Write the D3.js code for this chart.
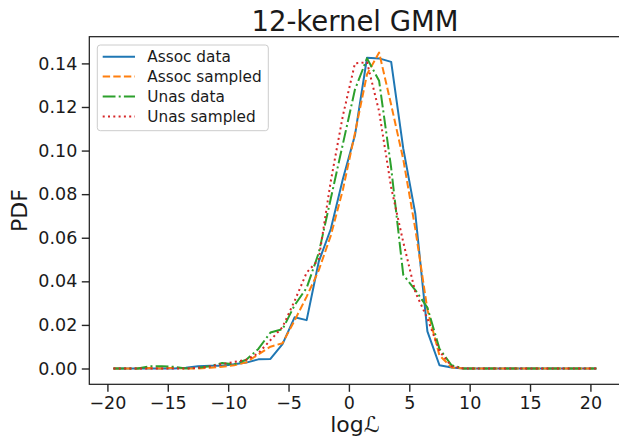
<!DOCTYPE html>
<html>
<head>
<meta charset="utf-8">
<script src="https://cdn.jsdelivr.net/npm/d3@7"></script>
<style>
  body { margin: 0; background: #fff; }
  svg { display: block; font-family: "DejaVu Sans", sans-serif; }
</style>
</head>
<body>
<div id="chart"></div>
<script>
// bin centres of log-likelihood
const logL = [-19.5, -18.5, -17.5, -16.5, -15.5, -14.5, -13.5, -12.5, -11.5, -10.5,
  -9.5, -8.5, -7.5, -6.5, -5.5, -4.5, -3.5, -2.5, -1.5, -0.5,
  0.5, 1.5, 2.5, 3.5, 4.5, 5.5, 6.5, 7.5, 8.5, 9.5,
  10.5, 11.5, 12.5, 13.5, 14.5, 15.5, 16.5, 17.5, 18.5, 19.5, 20.5];

const assocData = [0, 0, 0, 0, 0, 0, 0.0003, 0.001, 0.0013, 0.0013,
  0.002, 0.0027, 0.0042, 0.0044, 0.0112, 0.0235, 0.0222, 0.049, 0.064, 0.087,
  0.107, 0.1426, 0.1423, 0.1407, 0.101, 0.071, 0.017, 0.0015, 0.0005, 0,
  0, 0, 0, 0, 0, 0, 0, 0, 0, 0, 0];

const assocSampled = [0, 0, 0, 0.0002, 0, 0.0003, 0, 0, 0.0003, 0.0008,
  0.0015, 0.0028, 0.0065, 0.010, 0.0116, 0.022, 0.033, 0.045, 0.061, 0.082,
  0.108, 0.135, 0.145, 0.121, 0.096, 0.064, 0.027, 0.006, 0.0005, 0,
  0, 0, 0, 0, 0, 0, 0, 0, 0, 0, 0];

const unasData = [0, 0, 0, 0.001, 0.001, 0.0008, 0, 0.0003, 0.001, 0.0025,
  0.002, 0.004, 0.009, 0.0165, 0.018, 0.029, 0.037, 0.053, 0.078, 0.103,
  0.128, 0.1423, 0.132, 0.092, 0.043, 0.036, 0.028, 0.009, 0.0015, 0,
  0, 0, 0, 0, 0, 0, 0, 0, 0, 0, 0];

const unasSampled = [0, 0, 0, 0, 0, 0, 0, 0.0003, 0.001, 0.002,
  0.003, 0.004, 0.007, 0.013, 0.019, 0.031, 0.044, 0.050, 0.086, 0.116,
  0.140, 0.1405, 0.118, 0.083, 0.058, 0.035, 0.023, 0.008, 0.001, 0,
  0, 0, 0, 0, 0, 0, 0, 0, 0, 0, 0];

const seriesNames = ["Assoc data", "Assoc sampled", "Unas data", "Unas sampled"];
const xTicks = [-20, -15, -10, -5, 0, 5, 10, 15, 20];
const yTicks = [0, 0.02, 0.04, 0.06, 0.08, 0.10, 0.12, 0.14];

const width = 619, height = 441;
const plotLeft = 89.3, plotRight = 620.6, plotTop = 36.7, plotBottom = 384.3;

const series = [
  { name: seriesNames[0], values: assocData, color: "#1f77b4", dash: null },
  { name: seriesNames[1], values: assocSampled, color: "#ff7f0e", dash: "7.4,3.2" },
  { name: seriesNames[2], values: unasData, color: "#2ca02c", dash: "12.8,3.2,2,3.2" },
  { name: seriesNames[3], values: unasSampled, color: "#d62728", dash: "2,3.3" }
];

const x = d3.scaleLinear().domain([-21.5, 22.5]).range([plotLeft, plotRight]);
const y = d3.scaleLinear().domain([-0.00725, 0.15225]).range([plotBottom, plotTop]);

const svg = d3.select("#chart")
  .append("svg")
  .attr("width", width)
  .attr("height", height);

svg.append("defs").append("clipPath")
  .attr("id", "plotclip")
  .append("rect")
  .attr("x", plotLeft).attr("y", plotTop)
  .attr("width", plotRight - plotLeft).attr("height", plotBottom - plotTop);

// lines
const line = d3.line()
  .x((d, i) => x(logL[i]))
  .y(d => y(d));

const plot = svg.append("g").attr("clip-path", "url(#plotclip)");
series.forEach(s => {
  plot.append("path")
    .attr("d", line(s.values))
    .attr("fill", "none")
    .attr("stroke", s.color)
    .attr("stroke-width", 2)
    .attr("stroke-linejoin", "round")
    .attr("stroke-dasharray", s.dash);
});

// axes
const xAxis = svg.append("g")
  .attr("transform", `translate(0,${plotBottom})`)
  .call(d3.axisBottom(x).tickValues(xTicks).tickFormat(d3.format("d"))
    .tickSize(7.5).tickPadding(4.8));
const yAxis = svg.append("g")
  .attr("transform", `translate(${plotLeft},0)`)
  .call(d3.axisLeft(y).tickValues(yTicks).tickFormat(d3.format(".2f"))
    .tickSize(7.5).tickPadding(4.5));

[xAxis, yAxis].forEach(ax => {
  ax.select(".domain").remove();
  ax.selectAll(".tick line").attr("stroke", "#262626").attr("stroke-width", 1.4);
  ax.selectAll(".tick text")
    .attr("fill", "#1a1a1a")
    .style("font-family", "DejaVu Sans")
    .style("font-size", "17.5px");
});

// frame
svg.append("rect")
  .attr("x", plotLeft).attr("y", plotTop)
  .attr("width", plotRight - plotLeft).attr("height", plotBottom - plotTop)
  .attr("fill", "none")
  .attr("stroke", "#1a1a1a")
  .attr("stroke-width", 1.2);

// legend
const legend = svg.append("g");
legend.append("rect")
  .attr("x", 97.3).attr("y", 45)
  .attr("width", 171).attr("height", 85.7)
  .attr("rx", 3)
  .attr("fill", "#fff").attr("fill-opacity", 0.8)
  .attr("stroke", "#cccccc").attr("stroke-width", 1);

series.forEach((s, i) => {
  const cy = 56.7 + i * 19.9;
  legend.append("line")
    .attr("x1", 102.7).attr("x2", 135)
    .attr("y1", cy).attr("y2", cy)
    .attr("stroke", s.color)
    .attr("stroke-width", 2)
    .attr("stroke-dasharray", s.dash);
  legend.append("text")
    .attr("x", 147.3).attr("y", cy)
    .attr("dy", "0.36em")
    .attr("fill", "#1a1a1a")
    .style("font-size", "15.3px")
    .text(s.name);
});

// title and labels
svg.append("text")
  .attr("x", (plotLeft + plotRight) / 2).attr("y", 31)
  .attr("text-anchor", "middle")
  .attr("fill", "#1a1a1a")
  .style("font-size", "27.5px")
  .text("12-kernel GMM");

svg.append("text")
  .attr("x", (plotLeft + plotRight) / 2).attr("y", 432)
  .attr("text-anchor", "middle")
  .attr("fill", "#1a1a1a")
  .style("font-size", "22px")
  .text("log\u2112");

svg.append("text")
  .attr("transform", `translate(27,${(plotTop + plotBottom) / 2}) rotate(-90)`)
  .attr("text-anchor", "middle")
  .attr("fill", "#1a1a1a")
  .style("font-size", "22px")
  .text("PDF");
</script>
</body>
</html>
